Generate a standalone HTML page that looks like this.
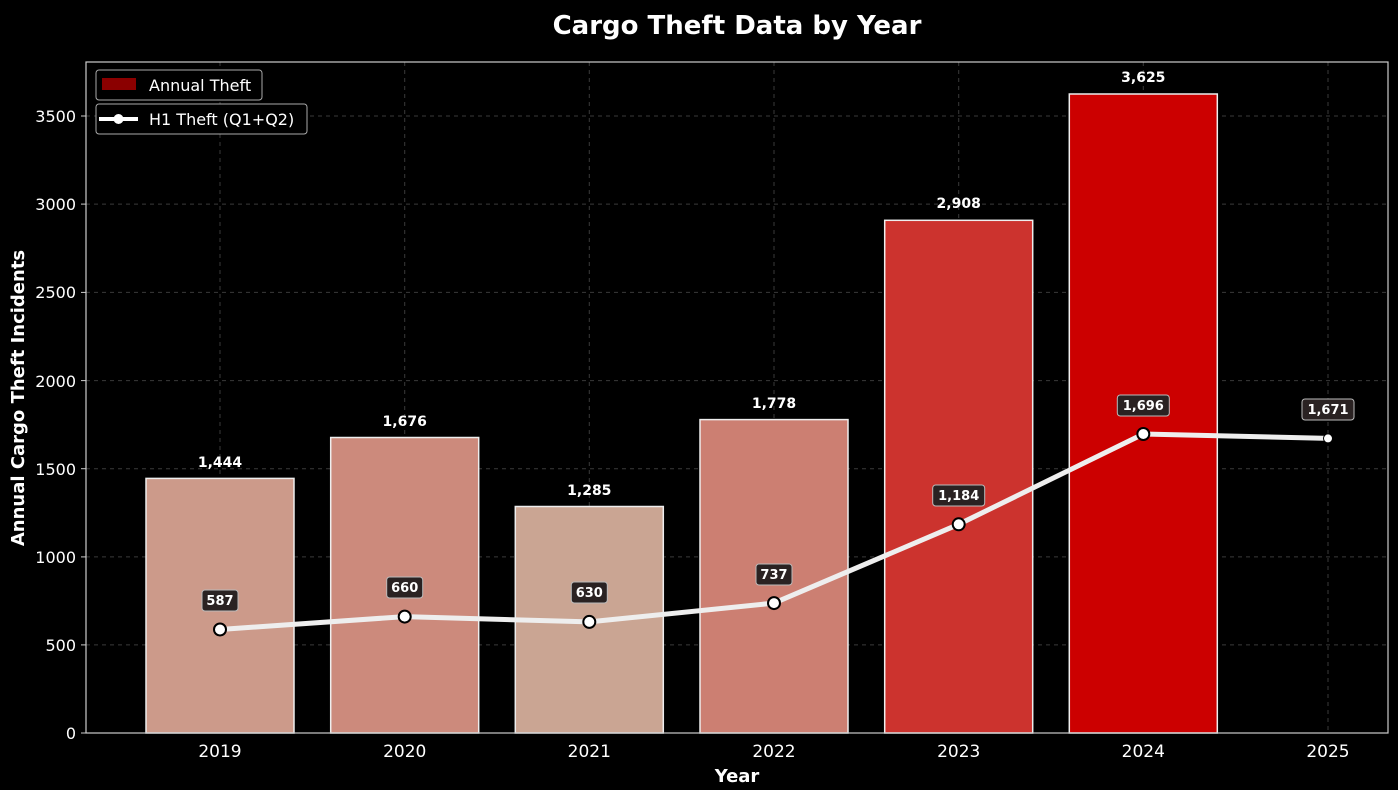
<!DOCTYPE html><html><head><meta charset="utf-8"><style>body{margin:0;background:#000}svg{display:block}text{font-family:"DejaVu Sans","Liberation Sans",sans-serif}</style></head><body>
<svg width="1398" height="790" viewBox="0 0 1398 790" xmlns="http://www.w3.org/2000/svg">
<rect width="1398" height="790" fill="#000"/>
<text x="737" y="34" text-anchor="middle" font-size="26" font-weight="bold" fill="#fff">Cargo Theft Data by Year</text>
<g stroke="#3a3a3a" stroke-dasharray="4,4" stroke-width="1">
<line x1="86" x2="1388" y1="644.9" y2="644.9"/><line x1="86" x2="1388" y1="556.9" y2="556.9"/><line x1="86" x2="1388" y1="468.7" y2="468.7"/><line x1="86" x2="1388" y1="380.6" y2="380.6"/><line x1="86" x2="1388" y1="292.4" y2="292.4"/><line x1="86" x2="1388" y1="204.1" y2="204.1"/><line x1="86" x2="1388" y1="116" y2="116"/>
<line y1="62" y2="733" x1="220" x2="220"/><line y1="62" y2="733" x1="404.7" x2="404.7"/><line y1="62" y2="733" x1="589.3" x2="589.3"/><line y1="62" y2="733" x1="774" x2="774"/><line y1="62" y2="733" x1="958.7" x2="958.7"/><line y1="62" y2="733" x1="1143.3" x2="1143.3"/><line y1="62" y2="733" x1="1328" x2="1328"/>
</g>
<g stroke="#eee" stroke-width="1.5">
<rect x="146" y="478.4" width="148" height="254.6" fill="#cc9a8a"/>
<rect x="330.7" y="437.5" width="148" height="295.5" fill="#cc8a7c"/>
<rect x="515.3" y="506.5" width="148" height="226.5" fill="#caa593"/>
<rect x="700" y="419.6" width="148" height="313.4" fill="#cc7f72"/>
<rect x="884.7" y="220.3" width="148" height="512.7" fill="#cc332e"/>
<rect x="1069.3" y="94" width="148" height="639" fill="#cc0000"/>
</g>
<g font-size="14" font-weight="bold" fill="#fff" text-anchor="middle">
<text x="220" y="467">1,444</text><text x="404.7" y="426">1,676</text><text x="589.3" y="495">1,285</text><text x="774" y="408">1,778</text><text x="958.7" y="208">2,908</text><text x="1143.3" y="82">3,625</text>
</g>
<polyline points="220,629.5 404.7,616.6 589.3,621.9 774,603.1 958.7,524.3 1143.3,434 1328,438.4" fill="none" stroke="#eee" stroke-width="5" stroke-linecap="round"/>
<g fill="#fff" stroke="#000" stroke-width="2">
<circle cx="220" cy="629.5" r="6"/><circle cx="404.7" cy="616.6" r="6"/><circle cx="589.3" cy="621.9" r="6"/><circle cx="774" cy="603.1" r="6"/><circle cx="958.7" cy="524.3" r="6"/><circle cx="1143.3" cy="434" r="6"/><circle cx="1328" cy="438.4" r="4.5" stroke-width="1"/>
</g>
<g font-size="13" font-weight="bold" fill="#fff" text-anchor="middle">
<rect x="202" y="590" width="36" height="21" rx="3" fill="#2a2222" stroke="#bbb"/><text x="220" y="605">587</text>
<rect x="386.7" y="577" width="36" height="21" rx="3" fill="#2a2222" stroke="#bbb"/><text x="404.7" y="592">660</text>
<rect x="571.3" y="582" width="36" height="21" rx="3" fill="#2a2222" stroke="#bbb"/><text x="589.3" y="597">630</text>
<rect x="756" y="564" width="36" height="21" rx="3" fill="#2a2222" stroke="#bbb"/><text x="774" y="579">737</text>
<rect x="932.7" y="485" width="52" height="21" rx="3" fill="#2a2222" stroke="#bbb"/><text x="958.7" y="500">1,184</text>
<rect x="1117.3" y="395" width="52" height="21" rx="3" fill="#2a2222" stroke="#bbb"/><text x="1143.3" y="410">1,696</text>
<rect x="1302" y="399" width="52" height="21" rx="3" fill="#2a2222" stroke="#bbb"/><text x="1328" y="414">1,671</text>
</g>
<rect x="86" y="62" width="1302" height="671" fill="none" stroke="#ccc" stroke-width="1.2"/>
<g font-size="16" fill="#fff" text-anchor="end">
<text x="76" y="739">0</text><text x="76" y="651">500</text><text x="76" y="563">1000</text><text x="76" y="475">1500</text><text x="76" y="387">2000</text><text x="76" y="298">2500</text><text x="76" y="210">3000</text><text x="76" y="122">3500</text>
</g>
<g stroke="#ccc"><line x1="81" x2="86" y1="733" y2="733"/><line x1="81" x2="86" y1="644.9" y2="644.9"/><line x1="81" x2="86" y1="556.9" y2="556.9"/><line x1="81" x2="86" y1="468.7" y2="468.7"/><line x1="81" x2="86" y1="380.6" y2="380.6"/><line x1="81" x2="86" y1="292.4" y2="292.4"/><line x1="81" x2="86" y1="204.1" y2="204.1"/><line x1="81" x2="86" y1="116" y2="116"/></g>
<g font-size="17" fill="#fff" text-anchor="middle">
<text x="220" y="757">2019</text><text x="404.7" y="757">2020</text><text x="589.3" y="757">2021</text><text x="774" y="757">2022</text><text x="958.7" y="757">2023</text><text x="1143.3" y="757">2024</text><text x="1328" y="757">2025</text>
</g>
<text x="737" y="782" text-anchor="middle" font-size="18" font-weight="bold" fill="#fff">Year</text>
<text transform="translate(24,398) rotate(-90)" text-anchor="middle" font-size="18" font-weight="bold" fill="#fff">Annual Cargo Theft Incidents</text>
<rect x="96" y="70" width="166" height="30" rx="3" fill="#000" stroke="#aaa"/>
<rect x="102" y="78" width="34" height="12" fill="#8b0000"/>
<text x="149" y="91" font-size="16" fill="#fff">Annual Theft</text>
<rect x="96" y="104" width="211" height="30" rx="3" fill="#000" stroke="#aaa"/>
<line x1="99" x2="138" y1="119" y2="119" stroke="#fff" stroke-width="4"/><circle cx="118.5" cy="119" r="5" fill="#fff"/>
<text x="149" y="125" font-size="16" fill="#fff">H1 Theft (Q1+Q2)</text>
</svg></body></html>
